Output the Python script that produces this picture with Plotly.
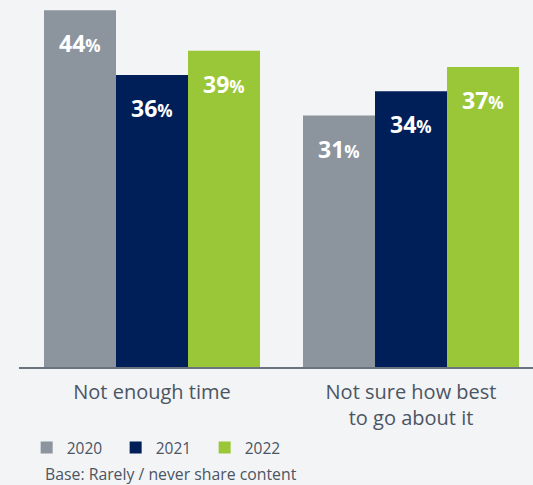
import plotly.graph_objects as go

categories = ["Not enough time", "Not sure how best<br>to go about it"]
years = ["2020", "2021", "2022"]
values = {
    "2020": [44, 31],
    "2021": [36, 34],
    "2022": [39, 37],
}
colors = {"2020": "#8c949e", "2021": "#001e58", "2022": "#9ac737"}
footnote = "Base: Rarely / never share content"

FONT = "Open Sans"
TXT = "#4b5563"
BG = "#f3f4f6"

BAR_W = 72 / 259  # bar width in category units

fig = go.Figure()
annotations = []
for i, y in enumerate(years):
    fig.add_trace(go.Bar(
        name=y, x=categories, y=values[y], marker_color=colors[y],
        marker_line_width=0, offsetgroup=y, hoverinfo="skip",
    ))
    for j, v in enumerate(values[y]):
        annotations.append(dict(
            x=j + (i - 1) * BAR_W, y=v, xref="x", yref="y",
            text=f"<b>{v}<span style='font-size:17px'>%</span></b>",
            showarrow=False, yanchor="middle", yshift=-33,
            font=dict(family=FONT, size=23, color="white"),
        ))

annotations.append(dict(
    text=footnote, xref="paper", yref="paper",
    x=(43 - 19) / 514, y=(367 - 474) / 367, xanchor="left", yanchor="middle",
    showarrow=False, font=dict(family=FONT, size=15.8, color=TXT),
))

fig.update_layout(
    width=533, height=485,
    margin=dict(l=19, r=0, t=0, b=118),
    paper_bgcolor=BG, plot_bgcolor=BG,
    barmode="group", bargap=0.166, bargroupgap=0,
    font=dict(family=FONT, color=TXT),
    xaxis=dict(
        range=[-0.5135, 1.471], showline=True, linecolor="#6b7280", linewidth=1.5,
        ticks="", tickfont=dict(family=FONT, size=20, color=TXT), showgrid=False,
        ticklabelstandoff=6,
    ),
    yaxis=dict(range=[0, 45.25], visible=False, showgrid=False, zeroline=False),
    showlegend=True,
    legend=dict(
        orientation="h", xref="container", yref="container",
        x=0.05, y=(485 - 448) / 485, xanchor="left", yanchor="middle",
        font=dict(family=FONT, size=15.5, color=TXT),
        entrywidth=44, entrywidthmode="pixels", bgcolor="rgba(0,0,0,0)",
        itemclick=False,
    ),
    annotations=annotations,
)

fig.write_html(
    "out.html",
    config={"responsive": False, "displayModeBar": False},
    post_script="document.body.style.margin='0';document.body.style.padding='0';",
)
